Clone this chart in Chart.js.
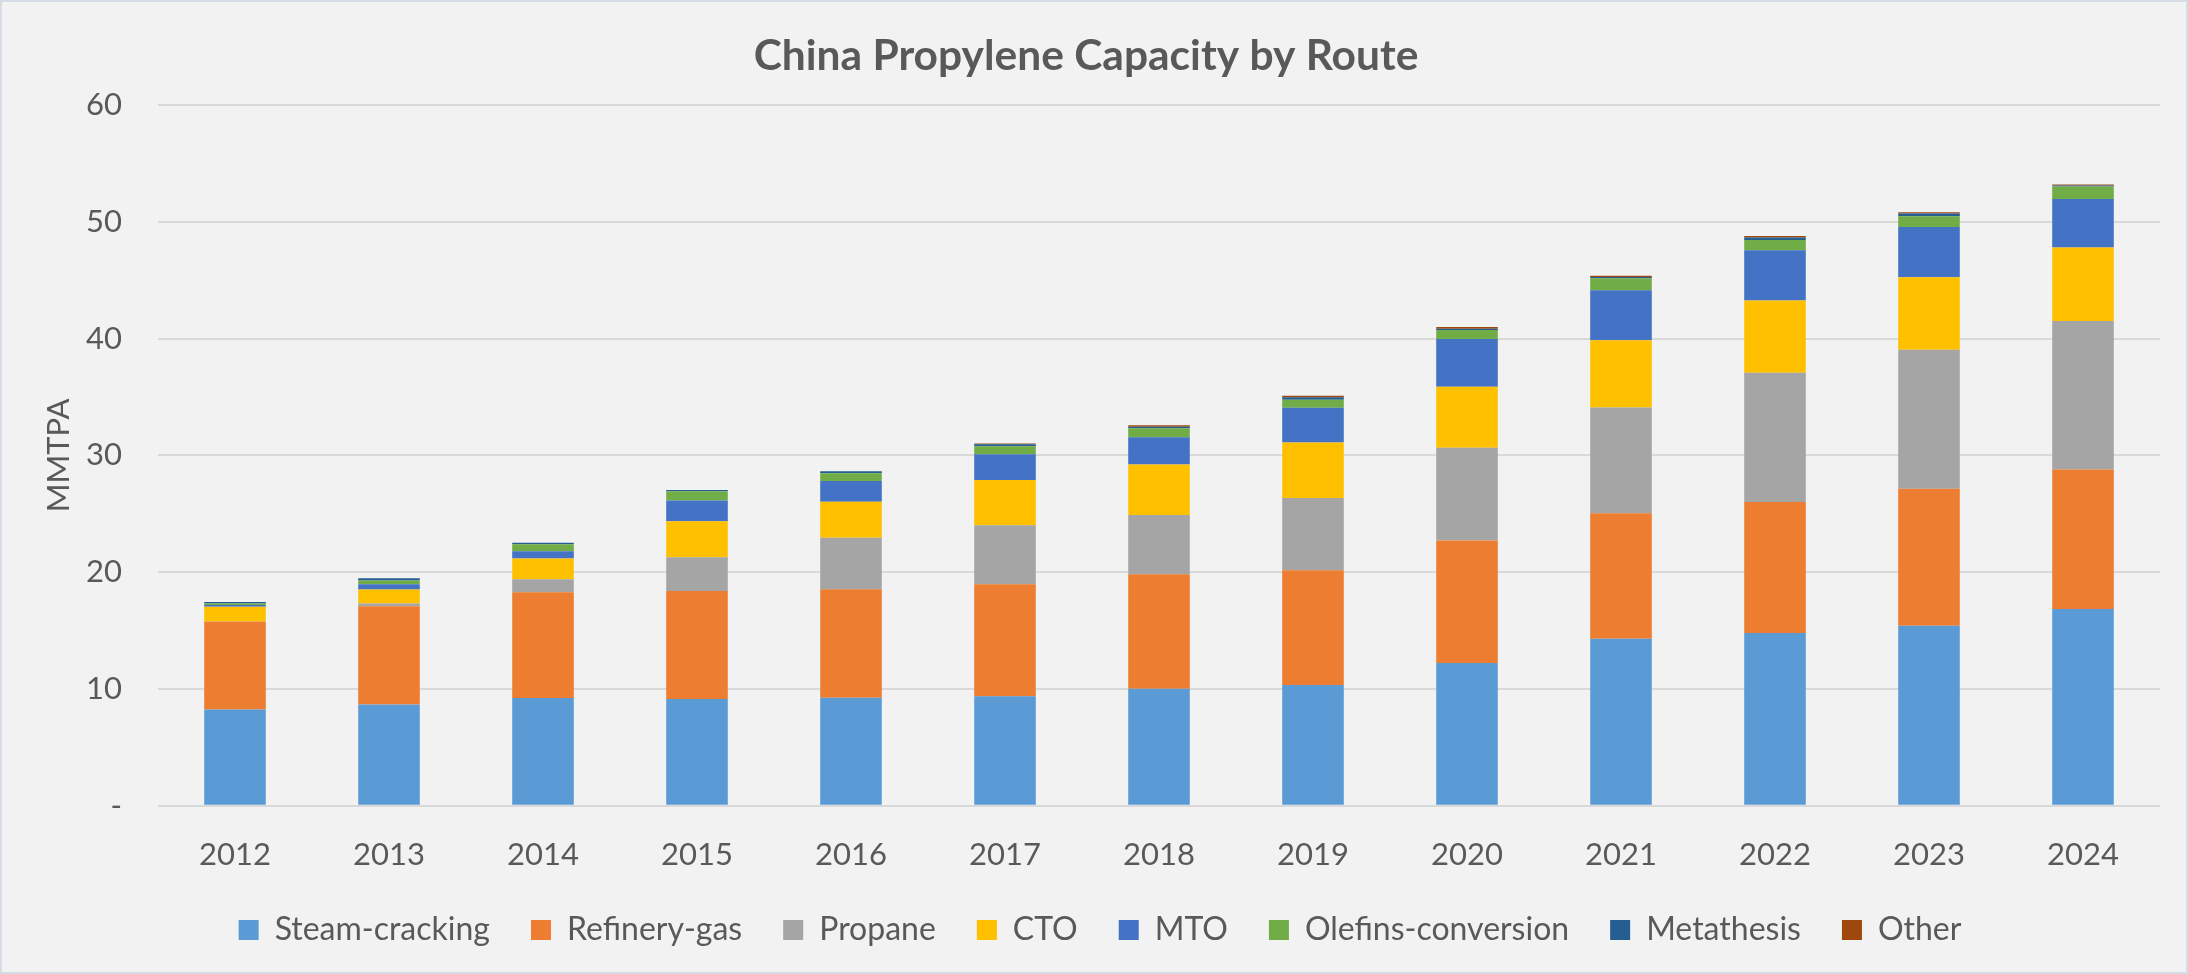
<!DOCTYPE html>
<html>
<head>
<meta charset="utf-8">
<script src="https://cdn.jsdelivr.net/npm/chart.js@4.4.1/dist/chart.umd.min.js"></script>
<style>
  html, body { margin: 0; padding: 0; background: #f2f2f2; }
  #wrap { position: relative; width: 2188px; height: 974px; }
  canvas { display: block; }
</style>
</head>
<body>
<div id="wrap"><canvas id="c" width="2188" height="974"></canvas></div>
<script>
const years = ['2012','2013','2014','2015','2016','2017','2018','2019','2020','2021','2022','2023','2024'];
const steamCracking     = [8.25, 8.68, 9.23, 9.14, 9.25, 9.37, 10.03, 10.34, 12.23, 14.31, 14.80, 15.42, 16.85];
const refineryGas       = [7.52, 8.40, 9.05, 9.26, 9.29, 9.60, 9.79, 9.82, 10.48, 10.74, 11.22, 11.72, 11.94];
const propane           = [0.00, 0.25, 1.12, 2.88, 4.40, 5.05, 5.08, 6.20, 7.94, 9.05, 11.06, 11.91, 12.71];
const cto               = [1.28, 1.18, 1.77, 3.08, 3.09, 3.88, 4.32, 4.74, 5.23, 5.75, 6.19, 6.20, 6.30];
const mto               = [0.15, 0.46, 0.63, 1.78, 1.77, 2.20, 2.34, 2.98, 4.08, 4.28, 4.29, 4.31, 4.16];
const olefinsConversion = [0.12, 0.31, 0.60, 0.80, 0.68, 0.69, 0.77, 0.68, 0.77, 1.03, 0.89, 0.91, 1.06];
const metathesis        = [0.12, 0.20, 0.12, 0.10, 0.17, 0.17, 0.12, 0.22, 0.12, 0.11, 0.20, 0.23, 0.08];
const other             = [0.00, 0.00, 0.00, 0.00, 0.00, 0.05, 0.14, 0.12, 0.14, 0.12, 0.14, 0.11, 0.10];
const seriesNames  = ['Steam-cracking','Refinery-gas','Propane','CTO','MTO','Olefins-conversion','Metathesis','Other'];
const seriesColors = ['#5B9BD5','#ED7D31','#A5A5A5','#FFC000','#4472C4','#70AD47','#255E91','#9E480E'];
const seriesData   = [steamCracking, refineryGas, propane, cto, mto, olefinsConversion, metathesis, other];
const yTicks = [0, 10, 20, 30, 40, 50, 60];

const TXT = '#595959';
const FONT = 'Lato';
const LEGEND_SHIFT = -32;
const TITLE_SHIFT = -14;

const bgPlugin = {
  id: 'bg',
  beforeDraw(chart) {
    const ctx = chart.ctx;
    ctx.save();
    ctx.fillStyle = '#f2f2f2';
    ctx.fillRect(0, 0, chart.width, chart.height);
    ctx.restore();
  },
  afterDraw(chart) {
    const ctx = chart.ctx;
    ctx.save();
    ctx.strokeStyle = '#d5dce6';
    ctx.lineWidth = 2;
    ctx.strokeRect(1, 1, chart.width - 2, chart.height - 2);
    ctx.restore();
  }
};

const boxShift = {
  id: 'boxShift',
  afterLayout(chart) {
    const lg = chart.legend;
    if (lg) { lg.top += LEGEND_SHIFT; lg.bottom += LEGEND_SHIFT; }
    const t = chart.titleBlock;
    if (t) { t.left += TITLE_SHIFT; t.right += TITLE_SHIFT; }
  }
};

new Chart(document.getElementById('c'), {
  type: 'bar',
  data: {
    labels: years,
    datasets: seriesNames.map((n, i) => ({
      label: n,
      data: seriesData[i],
      backgroundColor: seriesColors[i],
      borderWidth: 0,
      barPercentage: 0.40,
      categoryPercentage: 1.0
    }))
  },
  plugins: [bgPlugin, boxShift],
  options: {
    responsive: false,
    animation: false,
    devicePixelRatio: 1,
    layout: { padding: { left: 40, right: 28, top: 0, bottom: -14 } },
    plugins: {
      title: {
        display: true,
        text: 'China Propylene Capacity by Route',
        color: TXT,
        font: { family: FONT, size: 42.5, weight: 'bold' },
        padding: { top: 31, bottom: 23 }
      },
      legend: {
        position: 'bottom',
        labels: {
          color: TXT,
          font: { family: FONT, size: 32 },
          boxWidth: 20,
          boxHeight: 20,
          padding: 41
        }
      },
      tooltip: { enabled: false }
    },
    scales: {
      x: {
        stacked: true,
        grid: { display: false, drawTicks: false },
        border: { display: false },
        ticks: { color: TXT, font: { family: FONT, size: 31 }, padding: 31, maxRotation: 0 }
      },
      y: {
        stacked: true,
        min: 0,
        max: 60,
        afterBuildTicks(scale) { scale.ticks = yTicks.map(v => ({ value: v })); },
        afterFit(scale) { scale.width = 118; },
        grid: { color: '#d9d9d9', lineWidth: 2, drawTicks: false },
        border: { display: false },
        ticks: {
          color: TXT,
          font: { family: FONT, size: 31 },
          padding: 36,
          callback: (v) => (v === 0 ? '-' : v)
        },
        title: {
          display: true,
          text: 'MMTPA',
          color: TXT,
          font: { family: FONT, size: 31 },
          padding: { top: 0, bottom: 8 }
        }
      }
    }
  }
});
</script>
</body>
</html>
